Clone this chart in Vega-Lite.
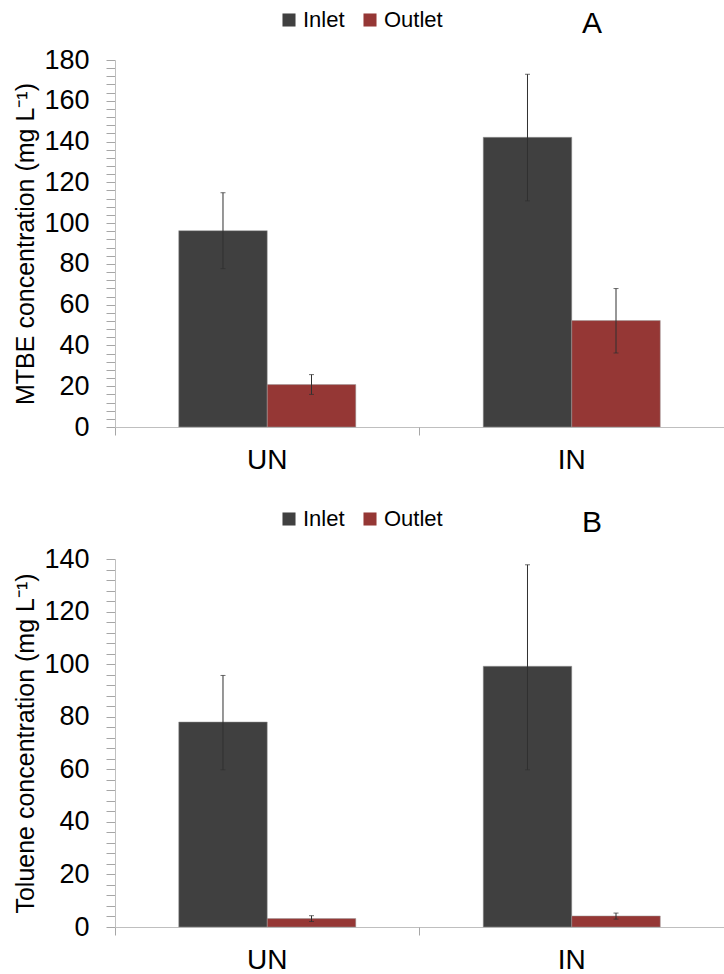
{
  "$schema": "https://vega.github.io/schema/vega-lite/v6.json",
  "autosize": {"type": "pad"},
  "padding": {"left": 13, "top": 9, "right": 0, "bottom": 0},
  "background": "white",
  "spacing": 34,
  "resolve": {"scale": {"color": "independent"}, "legend": {"color": "independent"}},
  "config": {
    "font": "Liberation Sans",
    "view": {"stroke": null},
    "axis": {"labelColor": "black", "titleColor": "black", "titleFontWeight": "normal", "grid": false}
  },
  "datasets": {
    "mtbe": [
      {"site": "UN", "stream": "Inlet", "mean": 96.3, "lo": 77.7, "hi": 114.9},
      {"site": "UN", "stream": "Outlet", "mean": 20.8, "lo": 16.0, "hi": 25.7},
      {"site": "IN", "stream": "Inlet", "mean": 142.1, "lo": 110.9, "hi": 173.0},
      {"site": "IN", "stream": "Outlet", "mean": 52.2, "lo": 36.3, "hi": 67.9}
    ],
    "toluene": [
      {"site": "UN", "stream": "Inlet", "mean": 78.0, "lo": 59.8, "hi": 95.7},
      {"site": "UN", "stream": "Outlet", "mean": 3.2, "lo": 2.1, "hi": 4.3},
      {"site": "IN", "stream": "Inlet", "mean": 99.2, "lo": 59.8, "hi": 137.8},
      {"site": "IN", "stream": "Outlet", "mean": 4.2, "lo": 3.0, "hi": 5.3}
    ]
  },
  "vconcat": [
    {
      "width": 609,
      "height": 367,
      "data": {"name": "mtbe"},
      "resolve": {"axis": {"x": "independent"}},
      "layer": [
        {
          "mark": {"type": "bar", "stroke": "#9a9a9a", "strokeWidth": 0.5},
          "encoding": {
            "x": {"field": "site", "type": "nominal", "sort": ["UN", "IN"],
              "scale": {"paddingInner": 0, "paddingOuter": 0},
              "axis": {"orient": "bottom", "title": null, "ticks": false, "domain": true, "domainColor": "#bfbfbf", "labelFontSize": 28, "labelPadding": 19, "labelAngle": 0}},
            "xOffset": {"field": "stream", "type": "nominal", "sort": ["Inlet", "Outlet"],
              "scale": {"paddingInner": 0, "paddingOuter": 0.72}},
            "y": {"field": "mean", "type": "quantitative", "title": "MTBE concentration (mg L⁻¹)",
              "scale": {"domain": [0, 180], "nice": false},
              "axis": {"titleFontSize": 25, "titlePadding": 5,
                "values": [0,4,8,12,16,20,24,28,32,36,40,44,48,52,56,60,64,68,72,76,80,84,88,92,96,100,104,108,112,116,120,124,128,132,136,140,144,148,152,156,160,164,168,172,176,180],
                "labelExpr": "datum.value % 20 === 0 ? datum.label : ''",
                "labelOverlap": false, "labelFontSize": 27, "labelPadding": 17,
                "tickSize": 9, "tickColor": "#a6a6a6", "domainColor": "#bfbfbf"}},
            "color": {"field": "stream", "type": "nominal",
              "scale": {"domain": ["Inlet", "Outlet"], "range": ["#404040", "#953735"]},
              "legend": {"orient": "none", "legendX": 163, "legendY": -51, "direction": "horizontal",
                "title": "A", "titleOrient": "right", "titleFontSize": 30, "titleFontWeight": "normal",
                "titlePadding": 139, "titleBaseline": "top", "titleAnchor": "start", "titleColor": "black",
                "symbolType": "square", "symbolSize": 170, "symbolStrokeWidth": 0,
                "labelFontSize": 22, "labelOffset": 3, "columnPadding": 14, "labelColor": "black"}}
          }
        },
        {
          "mark": {"type": "errorbar", "color": "#303030", "thickness": 1, "ticks": {"size": 5}},
          "encoding": {
            "x": {"field": "site", "type": "nominal", "sort": ["UN", "IN"],
              "axis": {"orient": "bottom", "title": null, "labels": false, "domain": false, "ticks": true, "bandPosition": 0, "tickSize": 8, "tickColor": "#a6a6a6"}},
            "xOffset": {"field": "stream", "type": "nominal", "sort": ["Inlet", "Outlet"]},
            "y": {"field": "lo", "type": "quantitative", "title": "MTBE concentration (mg L⁻¹)",
              "axis": {"titleFontSize": 25, "titlePadding": 5,
                "values": [0,4,8,12,16,20,24,28,32,36,40,44,48,52,56,60,64,68,72,76,80,84,88,92,96,100,104,108,112,116,120,124,128,132,136,140,144,148,152,156,160,164,168,172,176,180],
                "labelExpr": "datum.value % 20 === 0 ? datum.label : ''",
                "labelOverlap": false, "labelFontSize": 27, "labelPadding": 17,
                "tickSize": 9, "tickColor": "#a6a6a6", "domainColor": "#bfbfbf"}},
            "y2": {"field": "hi"}
          }
        }
      ]
    },
    {
      "width": 609,
      "height": 368,
      "data": {"name": "toluene"},
      "resolve": {"axis": {"x": "independent"}},
      "layer": [
        {
          "mark": {"type": "bar", "stroke": "#9a9a9a", "strokeWidth": 0.5},
          "encoding": {
            "x": {"field": "site", "type": "nominal", "sort": ["UN", "IN"],
              "scale": {"paddingInner": 0, "paddingOuter": 0},
              "axis": {"orient": "bottom", "title": null, "ticks": false, "domain": true, "domainColor": "#bfbfbf", "labelFontSize": 28, "labelPadding": 19, "labelAngle": 0}},
            "xOffset": {"field": "stream", "type": "nominal", "sort": ["Inlet", "Outlet"],
              "scale": {"paddingInner": 0, "paddingOuter": 0.72}},
            "y": {"field": "mean", "type": "quantitative", "title": "Toluene concentration (mg L⁻¹)",
              "scale": {"domain": [0, 140], "nice": false},
              "axis": {"titleFontSize": 25, "titlePadding": 5,
                "values": [0,4,8,12,16,20,24,28,32,36,40,44,48,52,56,60,64,68,72,76,80,84,88,92,96,100,104,108,112,116,120,124,128,132,136,140],
                "labelExpr": "datum.value % 20 === 0 ? datum.label : ''",
                "labelOverlap": false, "labelFontSize": 27, "labelPadding": 17,
                "tickSize": 9, "tickColor": "#a6a6a6", "domainColor": "#bfbfbf"}},
            "color": {"field": "stream", "type": "nominal",
              "scale": {"domain": ["Inlet", "Outlet"], "range": ["#404040", "#953735"]},
              "legend": {"orient": "none", "legendX": 163, "legendY": -51, "direction": "horizontal",
                "title": "B", "titleOrient": "right", "titleFontSize": 30, "titleFontWeight": "normal",
                "titlePadding": 139, "titleBaseline": "top", "titleAnchor": "start", "titleColor": "black",
                "symbolType": "square", "symbolSize": 170, "symbolStrokeWidth": 0,
                "labelFontSize": 22, "labelOffset": 3, "columnPadding": 14, "labelColor": "black"}}
          }
        },
        {
          "mark": {"type": "errorbar", "color": "#303030", "thickness": 1, "ticks": {"size": 5}},
          "encoding": {
            "x": {"field": "site", "type": "nominal", "sort": ["UN", "IN"],
              "axis": {"orient": "bottom", "title": null, "labels": false, "domain": false, "ticks": true, "bandPosition": 0, "tickSize": 8, "tickColor": "#a6a6a6"}},
            "xOffset": {"field": "stream", "type": "nominal", "sort": ["Inlet", "Outlet"]},
            "y": {"field": "lo", "type": "quantitative", "title": "Toluene concentration (mg L⁻¹)",
              "axis": {"titleFontSize": 25, "titlePadding": 5,
                "values": [0,4,8,12,16,20,24,28,32,36,40,44,48,52,56,60,64,68,72,76,80,84,88,92,96,100,104,108,112,116,120,124,128,132,136,140],
                "labelExpr": "datum.value % 20 === 0 ? datum.label : ''",
                "labelOverlap": false, "labelFontSize": 27, "labelPadding": 17,
                "tickSize": 9, "tickColor": "#a6a6a6", "domainColor": "#bfbfbf"}},
            "y2": {"field": "hi"}
          }
        }
      ]
    }
  ]
}
